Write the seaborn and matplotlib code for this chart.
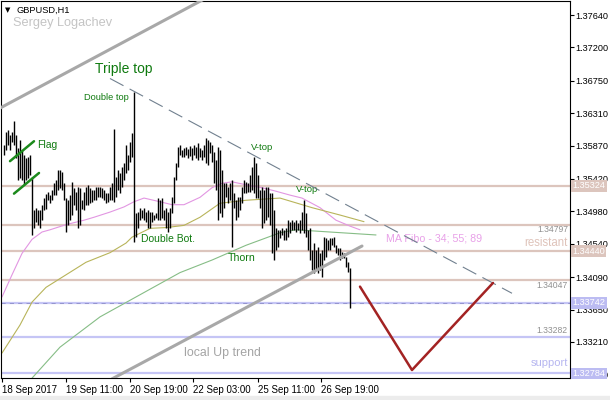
import numpy as np
import matplotlib
matplotlib.use("Agg")
import matplotlib.pyplot as plt
import seaborn as sns

# GBPUSD H1 bar chart with hand-drawn analysis (MT4 style)

# --- bar data (one bar per hour) ---
highs = [
    1.3588, 1.3606, 1.3608, 1.3601, 1.3606, 1.3620, 1.3601, 1.3584, 1.3595, 1.3581,
    1.3574, 1.3570, 1.3572, 1.3574, 1.3544, 1.3500, 1.3503, 1.3500, 1.3500, 1.3506,
    1.3516, 1.3521, 1.3524, 1.3520, 1.3527, 1.3537, 1.3541, 1.3554, 1.3554, 1.3551,
    1.3537, 1.3516, 1.3513, 1.3520, 1.3538, 1.3530, 1.3524, 1.3531, 1.3530, 1.3513,
    1.3524, 1.3531, 1.3534, 1.3530, 1.3527, 1.3527, 1.3531, 1.3531, 1.3531, 1.3530,
    1.3527, 1.3523, 1.3523, 1.3531, 1.3537, 1.3610, 1.3544, 1.3554, 1.3550, 1.3558,
    1.3564, 1.3588, 1.3574, 1.3592, 1.3604, 1.3660, 1.3496, 1.3497, 1.3502, 1.3500,
    1.3503, 1.3497, 1.3500, 1.3497, 1.3497, 1.3493, 1.3496, 1.3516, 1.3513, 1.3516,
    1.3500, 1.3502, 1.3497, 1.3503, 1.3517, 1.3544, 1.3564, 1.3585, 1.3588, 1.3581,
    1.3584, 1.3585, 1.3583, 1.3587, 1.3584, 1.3588, 1.3585, 1.3591, 1.3584, 1.3581,
    1.3588, 1.3597, 1.3595, 1.3592, 1.3588, 1.3578, 1.3568, 1.3585, 1.3581, 1.3554,
    1.3537, 1.3537, 1.3531, 1.3537, 1.3541, 1.3523, 1.3513, 1.3517, 1.3517, 1.3531,
    1.3541, 1.3538, 1.3537, 1.3547, 1.3558, 1.3572, 1.3564, 1.3547, 1.3527, 1.3531,
    1.3527, 1.3531, 1.3531, 1.3523, 1.3523, 1.3500, 1.3476, 1.3473, 1.3473, 1.3476,
    1.3473, 1.3475, 1.3486, 1.3483, 1.3486, 1.3483, 1.3486, 1.3482, 1.3486, 1.3497,
    1.3513, 1.3496, 1.3473, 1.3476, 1.3446, 1.3455, 1.3446, 1.3450, 1.3442, 1.3446,
    1.3463, 1.3462, 1.3459, 1.3462, 1.3462, 1.3463, 1.3452, 1.3448, 1.3448, 1.3443,
    1.3442, 1.3436, 1.3429, 1.3421,
]
lows = [
    1.3574, 1.3581, 1.3588, 1.3581, 1.3592, 1.3588, 1.3570, 1.3541, 1.3543, 1.3541,
    1.3534, 1.3541, 1.3543, 1.3547, 1.3466, 1.3476, 1.3483, 1.3479, 1.3476, 1.3486,
    1.3500, 1.3501, 1.3513, 1.3509, 1.3513, 1.3520, 1.3520, 1.3527, 1.3530, 1.3527,
    1.3513, 1.3470, 1.3479, 1.3486, 1.3493, 1.3506, 1.3500, 1.3476, 1.3479, 1.3501,
    1.3500, 1.3506, 1.3506, 1.3509, 1.3511, 1.3513, 1.3513, 1.3517, 1.3517, 1.3516,
    1.3513, 1.3509, 1.3511, 1.3513, 1.3513, 1.3511, 1.3517, 1.3527, 1.3523, 1.3531,
    1.3541, 1.3550, 1.3554, 1.3565, 1.3572, 1.3456, 1.3463, 1.3476, 1.3486, 1.3489,
    1.3486, 1.3483, 1.3475, 1.3476, 1.3483, 1.3486, 1.3489, 1.3486, 1.3486, 1.3489,
    1.3486, 1.3476, 1.3470, 1.3476, 1.3496, 1.3509, 1.3541, 1.3558, 1.3574, 1.3572,
    1.3572, 1.3574, 1.3570, 1.3573, 1.3568, 1.3574, 1.3570, 1.3568, 1.3572, 1.3568,
    1.3572, 1.3564, 1.3561, 1.3577, 1.3565, 1.3537, 1.3527, 1.3486, 1.3496, 1.3490,
    1.3503, 1.3517, 1.3509, 1.3513, 1.3450, 1.3503, 1.3486, 1.3490, 1.3500, 1.3509,
    1.3523, 1.3523, 1.3524, 1.3524, 1.3527, 1.3523, 1.3516, 1.3516, 1.3503, 1.3476,
    1.3482, 1.3486, 1.3490, 1.3479, 1.3442, 1.3432, 1.3446, 1.3450, 1.3462, 1.3466,
    1.3459, 1.3459, 1.3463, 1.3469, 1.3473, 1.3473, 1.3470, 1.3473, 1.3469, 1.3473,
    1.3469, 1.3463, 1.3446, 1.3432, 1.3419, 1.3415, 1.3419, 1.3415, 1.3419, 1.3409,
    1.3432, 1.3436, 1.3446, 1.3446, 1.3452, 1.3450, 1.3442, 1.3439, 1.3432, 1.3435,
    1.3435, 1.3423, 1.3416, 1.3367,
]

# --- moving averages (MA Fibo 34 / 55 / 89), sampled along the lines ---
ma34_x = [-1, 4, 9, 14, 19, 23, 31, 40, 45, 53, 60, 65, 70, 78, 84, 90, 98, 104,
          109, 114, 121, 129, 135, 143, 149, 158, 166, 173, 178]
ma34_y = [1.3382, 1.3412, 1.3441, 1.3460, 1.3470, 1.3473, 1.3480, 1.3486, 1.3490,
          1.3497, 1.3504, 1.3511, 1.3516, 1.3511, 1.3507, 1.3507, 1.3517, 1.3530,
          1.3536, 1.3538, 1.3534, 1.3530, 1.3526, 1.3520, 1.3516, 1.3503, 1.3486,
          1.3478, 1.3473]
ma55_x = [-1, 8, 14, 21, 31, 41, 53, 61, 64, 73, 81, 90, 98, 108, 121, 138, 154, 168, 180]
ma55_y = [1.3306, 1.3344, 1.3375, 1.3395, 1.3412, 1.3429, 1.3442, 1.3455, 1.3463,
          1.3475, 1.3476, 1.3479, 1.3490, 1.3509, 1.3513, 1.3516, 1.3503, 1.3493, 1.3484]
ma89_x = [14, 28, 48, 68, 80, 88, 104, 121, 138, 146, 163, 186]
ma89_y = [1.3272, 1.3314, 1.3355, 1.3385, 1.3403, 1.3415, 1.3432, 1.3452,
          1.3469, 1.3473, 1.3470, 1.3466]

# --- horizontal levels ---
res_levels = [1.35324, 1.34797, 1.34440, 1.34047]
sup_levels = [1.33742, 1.33282, 1.32784]

# --- drawn objects (bar index, price) ---
chan_x, chan_y = [-4, 101], [1.3635, 1.3787]          # upper channel line
up_x, up_y = [54, 179], [1.3271, 1.3451]              # local up trend
tri_x, tri_y = [53, 254], [1.3678, 1.3387]            # triple top dashed line
flag1_x, flag1_y = [3, 15], [1.3566, 1.3593]
flag2_x, flag2_y = [5, 17.5], [1.3522, 1.3550]
zz_x, zz_y = [178, 204, 244.5], [1.3396, 1.3283, 1.3401]  # projected move

yticks = [1.37640, 1.37200, 1.36750, 1.36310, 1.35870, 1.35420, 1.34980,
          1.34540, 1.34090, 1.33650, 1.33210, 1.32770]
xtick_pos = [-1, 31, 63, 94.5, 127, 158.5]
xtick_lbl = ['18 Sep 2017', '19 Sep 11:00', '20 Sep 19:00', '22 Sep 03:00',
             '25 Sep 11:00', '26 Sep 19:00']

sns.set_theme(style='white')
plt.rcParams['font.family'] = ['Liberation Sans', 'DejaVu Sans']
plt.rcParams['lines.scale_dashes'] = False

fig = plt.figure(figsize=(6.1, 4), dpi=100)
fig.patch.set_facecolor('white')
ax = fig.add_axes([1 / 610, 22 / 400, 569 / 610, 377 / 400])
ax.set_facecolor('white')

RES_C = '#dcc5bd'
SUP_C = '#c5c5f5'
GREEN = '#0f7a0f'

# levels
for lv in res_levels:
    ax.axhline(lv, color=RES_C, lw=1.6, zorder=1)
for lv in sup_levels:
    ax.axhline(lv, color=SUP_C, lw=1.6, zorder=1)
ax.axhline(sup_levels[0], color='#8c8cc8', lw=0.6, ls=(0, (3, 3)), zorder=1.1)

# moving averages
sns.lineplot(x=ma34_x, y=ma34_y, ax=ax, color='#e296e2', lw=0.8, zorder=2)
sns.lineplot(x=ma55_x, y=ma55_y, ax=ax, color='#b8b45a', lw=0.8, zorder=2)
sns.lineplot(x=ma89_x, y=ma89_y, ax=ax, color='#86bd86', lw=0.8, zorder=2)

# price bars
idx = np.arange(len(highs))
ax.vlines(idx, lows, highs, color='black', lw=1.0, zorder=3)

# trend lines
sns.lineplot(x=chan_x, y=chan_y, ax=ax, color='#a8a8a8', lw=2.2, zorder=4)
sns.lineplot(x=up_x, y=up_y, ax=ax, color='#a8a8a8', lw=2.2, zorder=4)
sns.lineplot(x=tri_x, y=tri_y, ax=ax, color='#71808f', lw=0.8,
             linestyle=(0, (11, 5)), zorder=4)
sns.lineplot(x=flag1_x, y=flag1_y, ax=ax, color='#1c8a1c', lw=1.8, zorder=4)
sns.lineplot(x=flag2_x, y=flag2_y, ax=ax, color='#1c8a1c', lw=1.8, zorder=4)
sns.lineplot(x=zz_x, y=zz_y, ax=ax, color='#a32323', lw=1.8, sort=False, zorder=4)

# annotations
ax.text(45.5, 1.3691, 'Triple top', color=GREEN, fontsize=10, va='center')
ax.text(40, 1.3652, 'Double top', color=GREEN, fontsize=6.7, va='center')
ax.text(16.5, 1.3588, 'Flag', color=GREEN, fontsize=7.5, va='center')
ax.text(68.5, 1.3461, 'Double Bot.', color=GREEN, fontsize=7.5, va='center')
ax.text(112, 1.3435, 'Thorn', color=GREEN, fontsize=7.6, va='center')
ax.text(123.5, 1.3584, 'V-top', color=GREEN, fontsize=6.8, va='center')
ax.text(146, 1.3527, 'V-top', color=GREEN, fontsize=6.8, va='center')
ax.text(191, 1.3461, 'MA Fibo - 34; 55; 89', color='#e8a0e8', fontsize=7.7, va='center')
ax.text(90, 1.3306, 'local Up trend', color='#a4a4a4', fontsize=8.9, va='center')

ytr = ax.get_yaxis_transform()
ax.text(0.9965, 1.3473, '1.34797', color='#909090', fontsize=6.2, ha='right', va='center', transform=ytr)
ax.text(0.9965, 1.3455, 'resistant', color='#dfc3ba', fontsize=8.3, ha='right', va='center', transform=ytr)
ax.text(0.9965, 1.3397, '1.34047', color='#909090', fontsize=6.2, ha='right', va='center', transform=ytr)
ax.text(0.9965, 1.3336, '1.33282', color='#909090', fontsize=6.2, ha='right', va='center', transform=ytr)
ax.text(0.9965, 1.3292, 'support', color='#b6b6f0', fontsize=8, ha='right', va='center', transform=ytr)

ax.text(0.007, 0.976, '\u25bc', color='black', fontsize=5, va='center',
        transform=ax.transAxes, family=['DejaVu Sans'])
ax.text(0.028, 0.976, 'GBPUSD,H1', color='black', fontsize=6.7, va='center', transform=ax.transAxes)
ax.text(0.021, 0.942, 'Sergey Logachev', color='#c4c4c4', fontsize=9.2, va='center', transform=ax.transAxes)

# price tags on the right scale
for lv, c in [(res_levels[0], RES_C), (res_levels[2], RES_C),
              (sup_levels[0], '#bcbcf2'), (sup_levels[2], '#bcbcf2')]:
    ax.text(1.004, lv, f'{lv:.5f}', color='white', fontsize=6.6, va='center', ha='left',
            transform=ytr, clip_on=False, zorder=10,
            bbox=dict(boxstyle='square,pad=0.15', fc=c, ec='none'))

# axes styling
ax.set_xlim(-1.5, 283)
ax.set_ylim(1.32722, 1.37830)
ax.yaxis.tick_right()
ax.set_yticks(yticks)
ax.set_yticklabels([f'{v:.5f}' for v in yticks])
ax.set_xticks(xtick_pos)
ax.set_xticklabels(xtick_lbl, ha='left')
ax.tick_params(axis='both', direction='out', length=3, width=0.8, color='black',
               labelcolor='black')
ax.tick_params(axis='y', right=True, left=False, labelsize=6.6, pad=1.2)
ax.tick_params(axis='x', bottom=True, labelsize=7, pad=2)
for sp in ax.spines.values():
    sp.set_visible(True)
    sp.set_color('black')
    sp.set_linewidth(0.8)
ax.grid(False)
ax.set_xlabel('')
ax.set_ylabel('')

fig.patches.append(plt.Rectangle((0, 0), 1, 4 / 400, transform=fig.transFigure,
                                 color='#ececec', zorder=0))

fig.savefig('out.png', dpi=100)
